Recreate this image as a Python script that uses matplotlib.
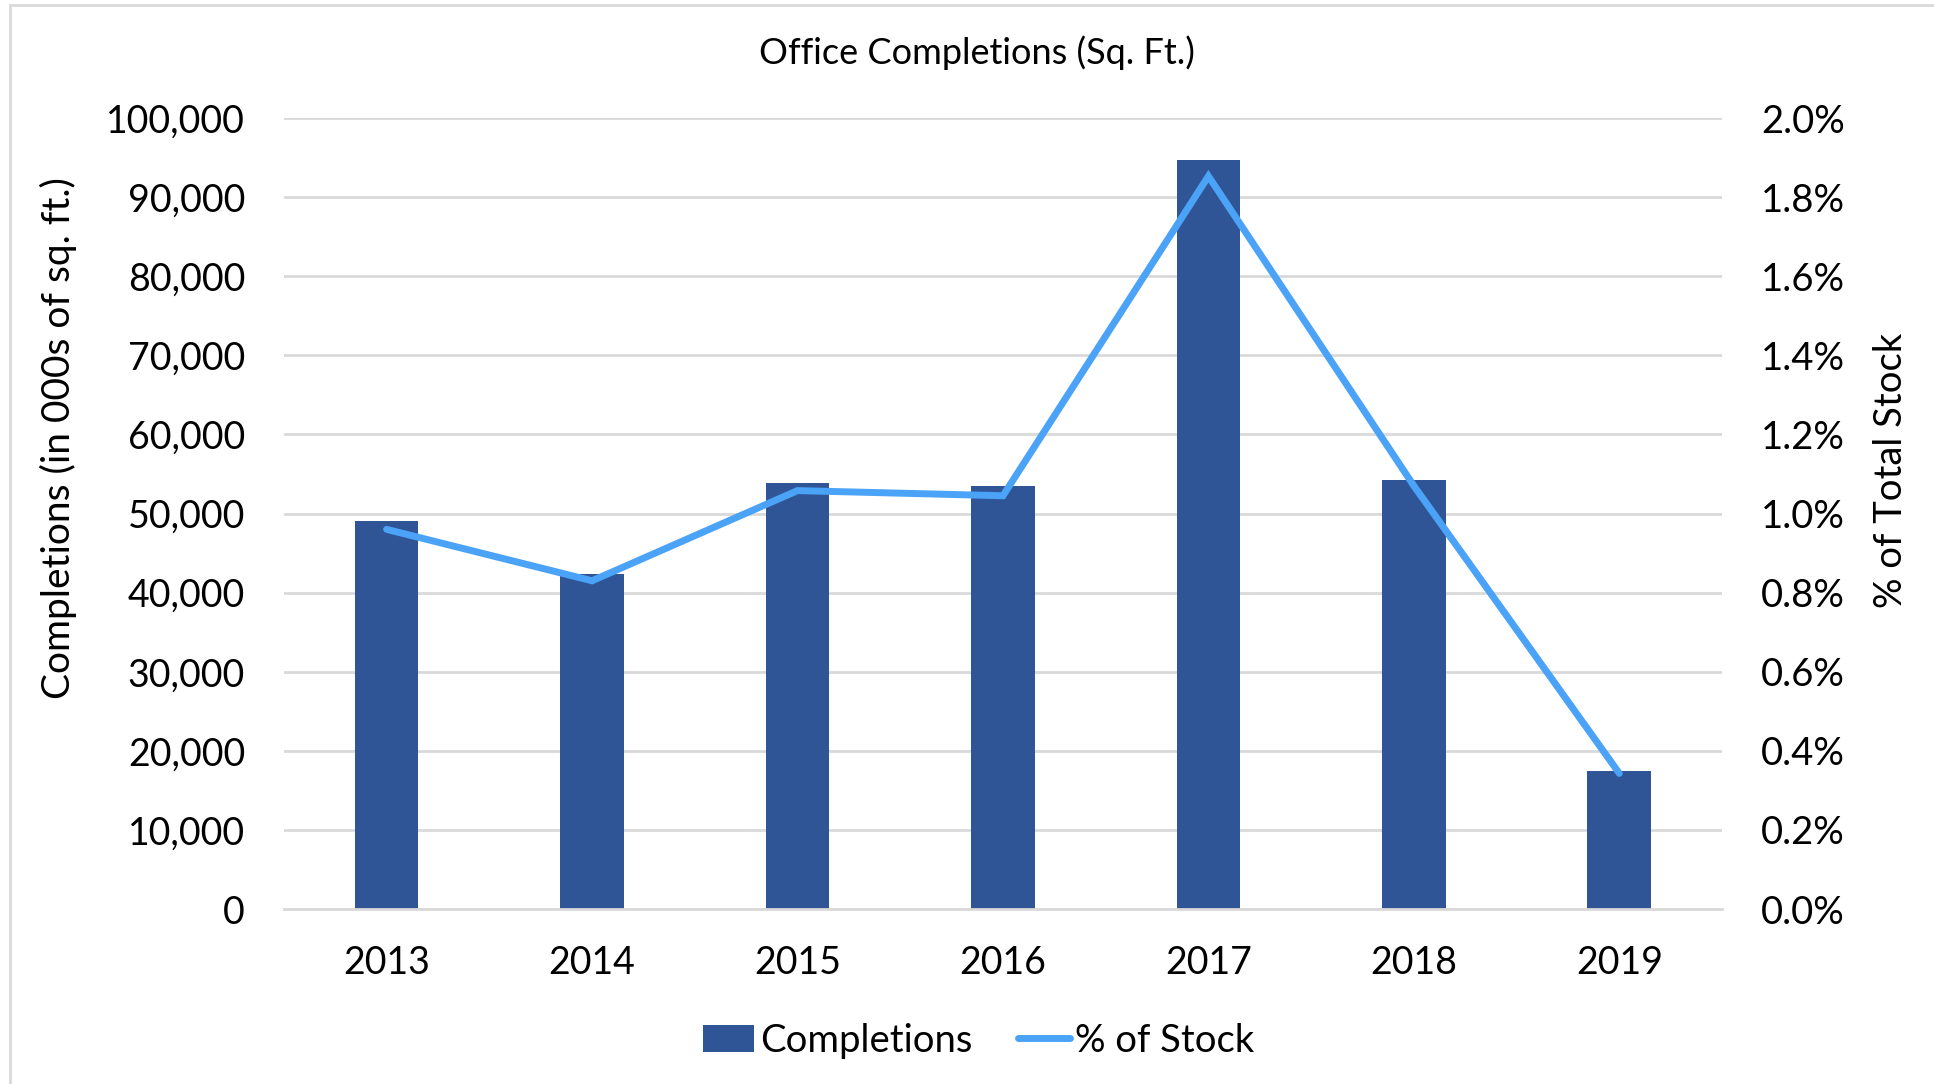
import numpy as np
import matplotlib
matplotlib.use("Agg")
import matplotlib.pyplot as plt
from matplotlib.ticker import FuncFormatter, PercentFormatter
from matplotlib.patches import Rectangle

years = ["2013", "2014", "2015", "2016", "2017", "2018", "2019"]
completions = [49100, 42400, 53800, 53500, 94700, 54300, 17500]
pct_stock = [0.96, 0.83, 1.058, 1.045, 1.853, 1.07, 0.343]

plt.rcParams['font.family'] = ['Lato', 'DejaVu Sans']

fig = plt.figure(figsize=(19.34, 10.84), dpi=100)
ax = fig.add_axes([0.1468, 0.1614, 0.7436, 0.7297])
ax2 = ax.twinx()

x = np.arange(len(years))
bars = ax.bar(x, completions, width=0.31, color='#2F5597', label='Completions', zorder=2)
line, = ax2.plot(x, pct_stock, color='#4BA3F8', lw=5, solid_capstyle='round',
                 solid_joinstyle='miter', label='% of Stock', zorder=3)

ax.set_xlim(-0.5, len(years) - 0.5)
ax.set_ylim(0, 100000)
ax2.set_ylim(0, 2.0)
ax.set_yticks(np.arange(0, 100001, 10000))
ax2.set_yticks(np.arange(0, 2.01, 0.2))
ax.yaxis.set_major_formatter(FuncFormatter(lambda v, p: f"{int(v):,}"))
ax2.yaxis.set_major_formatter(PercentFormatter(decimals=1))
ax.set_xticks(x)
ax.set_xticklabels(years)

ax.grid(axis='y', color='#D9D9D9', lw=2, zorder=0)
ax.set_axisbelow(True)
for a in (ax, ax2):
    for s in a.spines.values():
        s.set_visible(False)
    a.tick_params(length=0)
ax.spines['bottom'].set_visible(True)
ax.spines['bottom'].set_color('#D9D9D9')
ax.spines['bottom'].set_linewidth(2)

ax.tick_params(axis='y', labelsize=27, pad=28, colors='#000000')
ax.tick_params(axis='x', labelsize=27, pad=26)
ax2.tick_params(axis='y', labelsize=27.5, pad=28)

ax.set_ylabel("Completions (in 000s of sq. ft.)", fontsize=28)
ax.yaxis.set_label_coords(-0.144, 0.596)
ax2.set_ylabel("% of Total Stock", fontsize=27.5)
ax2.yaxis.set_label_coords(1.105, 0.555)
fig.text(0.505, 0.951, "Office Completions (Sq. Ft.)", ha='center', va='center', fontsize=26)

fig.legend([bars, line], ['Completions', '% of Stock'], loc='center',
           bbox_to_anchor=(0.506, 0.04), ncol=2, frameon=False, fontsize=27.5,
           handlelength=1.35, handletextpad=0.15, columnspacing=1.2)

fig.patches.append(Rectangle((0.005, -0.1), 1.2, 1.095, transform=fig.transFigure,
                             fill=False, edgecolor='#D9D9D9', lw=2))

fig.savefig("out.png", dpi=100)
